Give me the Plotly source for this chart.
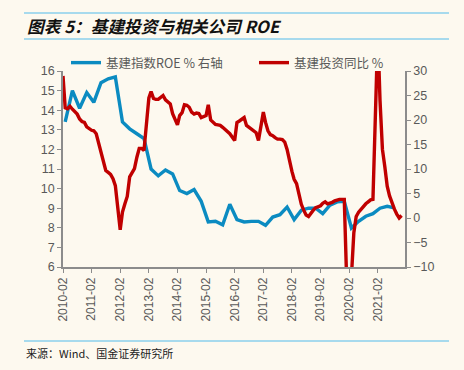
import plotly.graph_objects as go
import pandas as pd

# ---- data ----
roe_dates = pd.date_range("2010-03-01", "2021-09-01", freq="3MS")
roe_values = [13.4, 15.0, 14.1, 14.9,
              14.4, 15.4, 15.6, 15.7,
              13.4, 13.05, 12.8, 12.55,
              11.0, 10.65, 10.95, 10.75,
              9.9, 9.75, 9.95, 9.35,
              8.3, 8.33, 8.15, 9.2,
              8.42, 8.3, 8.33, 8.33,
              8.13, 8.55, 8.67, 9.06,
              8.42, 8.9, 9.0, 9.0,
              8.72, 9.15, 9.32, 9.35,
              7.99, 8.33, 8.59, 8.72,
              9.0, 9.1, 9.02]

inv_dates = pd.date_range("2010-02-01", "2021-12-01", freq="MS")
inv_2010 = [29.0, 22.5, 22.3, 22.8, 22.2, 21.6, 21.2, 20.2, 19.7, 19.5, 18.6]
inv_2011 = [None, 17.9, 17.8, 17.2, 15.3, 13.6, 11.8, 9.7, 9.3, 8.9, 8.0, 6.6]
inv_2012 = [None, -2.4, 1.2, 2.9, 4.4, 8.4, 9.4, 10.1, 12.4, 14.2, 14.2, 13.8]
inv_2013 = [None, 24.5, 25.8, 24.4, 24.2, 24.2, 24.5, 25.0, 24.1, 23.6, 23.3, 21.3]
inv_2014 = [None, 19.0, 20.9, 21.5, 23.1, 23.0, 22.6, 21.6, 21.2, 21.4, 21.3, 20.5]
inv_2015 = [None, 20.9, 23.1, 20.0, 19.5, 19.1, 19.0, 18.9, 18.5, 18.1, 17.8, 17.2]
inv_2016 = [None, 15.8, 19.5, 19.8, 20.2, 20.5, 18.9, 18.5, 18.2, 17.8, 17.4, 15.8]
inv_2017 = [None, 21.6, 19.5, 17.8, 17.0, 16.8, 16.4, 16.1, 16.1, 16.0, 15.5, 14.0]
inv_2018 = [None, 9.5, 7.9, 7.0, 4.5, 2.8, 1.6, 0.6, 0.3, 1.0, 1.6, 2.1]
inv_2019 = [None, 2.5, 3.0, 3.3, 2.9, 3.0, 3.2, 3.5, 3.7, 3.8, 3.8, 3.8]
inv_2020 = [None, -30.0, -12.0, -3.0, 0.3, 1.2, 1.8, 2.4, 2.9, 3.3, 3.7, 3.8]
inv_2021 = [None, 38.0, 24.0, 14.0, 10.5, 6.5, 4.5, 3.0, 1.8, 0.8, 0.0, 0.5]
inv_values = (inv_2010 + inv_2011 + inv_2012 + inv_2013 + inv_2014 + inv_2015 +
              inv_2016 + inv_2017 + inv_2018 + inv_2019 + inv_2020 + inv_2021)

tick_years = list(range(2010, 2022))
tick_labels = [f"{y}-02" for y in tick_years]
tick_vals = [f"{y}-02-01" for y in tick_years]

BLUE = "#0B8BC1"
RED = "#C00000"
AXIS = "#8C8C8C"
TXT = "#595959"
BG = "#FDF9EF"
RULE = "#8ACFEC"
FONT = "Liberation Sans, Noto Sans CJK SC"
CJK = "Noto Sans CJK SC"

fig = go.Figure()
fig.add_trace(go.Scatter(x=roe_dates, y=roe_values, mode="lines",
                         name="基建指数ROE % 右轴", legend="legend",
                         line=dict(color=BLUE, width=3.4)))
fig.add_trace(go.Scatter(x=inv_dates, y=inv_values, mode="lines",
                         name="基建投资同比 %", yaxis="y2", connectgaps=True,
                         legend="legend2",
                         line=dict(color=RED, width=3.4)))

W, H = 464, 370
L, R, T, B = 63, 59, 71, 103
pw, ph = W - L - R, H - T - B


def px(x):
    return (x - L) / pw


def py(y):
    return (H - B - y) / ph


leg_common = dict(orientation="h", xanchor="left", yanchor="middle",
                  font=dict(family=CJK, size=12.5, color=TXT),
                  bgcolor="rgba(0,0,0,0)")

fig.update_layout(
    width=W, height=H,
    margin=dict(l=L, r=R, t=T, b=B, autoexpand=False),
    paper_bgcolor=BG, plot_bgcolor=BG,
    font=dict(family=FONT, color=TXT, size=12),
    showlegend=True,
    legend=dict(x=px(66), y=py(63), **leg_common),
    legend2=dict(x=px(254), y=py(63), **leg_common),
    xaxis=dict(type="date", range=["2010-02-01", "2022-01-14"],
               tickmode="array", tickvals=tick_vals, ticktext=tick_labels,
               tickangle=-90, ticks="outside", ticklen=4, tickcolor=AXIS,
               showline=True, linecolor=AXIS, linewidth=1.5, showgrid=False,
               zeroline=False, tickfont=dict(size=12, color=TXT)),
    yaxis=dict(range=[6, 16], dtick=1, ticks="outside", ticklen=4, tickcolor=AXIS,
               showline=True, linecolor=AXIS, linewidth=1.5, showgrid=False,
               zeroline=False, tickfont=dict(size=12.5, color=TXT)),
    yaxis2=dict(range=[-10, 30], dtick=5, overlaying="y", side="right",
                ticks="outside", ticklen=4, tickcolor=AXIS,
                showline=True, linecolor=AXIS, linewidth=1.5, showgrid=False,
                zeroline=False, tickfont=dict(size=12.5, color=TXT)),
    shapes=[
        dict(type="line", xref="paper", yref="paper", x0=px(24), x1=px(449),
             y0=py(13), y1=py(13), line=dict(color=RULE, width=1.5)),
        dict(type="line", xref="paper", yref="paper", x0=px(24), x1=px(449),
             y0=py(39), y1=py(39), line=dict(color=RULE, width=1.5)),
        dict(type="line", xref="paper", yref="paper", x0=px(24), x1=px(449),
             y0=py(341), y1=py(341), line=dict(color=RULE, width=1.5)),
    ],
    annotations=[
        dict(text="<b><i>图表 5：基建投资与相关公司 ROE</i></b>", xref="paper", yref="paper",
             x=px(25), y=py(26), xanchor="left", yanchor="middle", showarrow=False,
             font=dict(family=CJK, size=16.7, color="#111111")),
        dict(text="来源：Wind、国金证券研究所", xref="paper", yref="paper",
             x=px(24), y=py(353), xanchor="left", yanchor="middle", showarrow=False,
             font=dict(family=CJK, size=11, color="#222222")),
    ],
)

fig.write_html("out.html", config={"displayModeBar": False},
               post_script="document.body.style.margin='0';"
                           "document.body.style.background='" + BG + "';")
